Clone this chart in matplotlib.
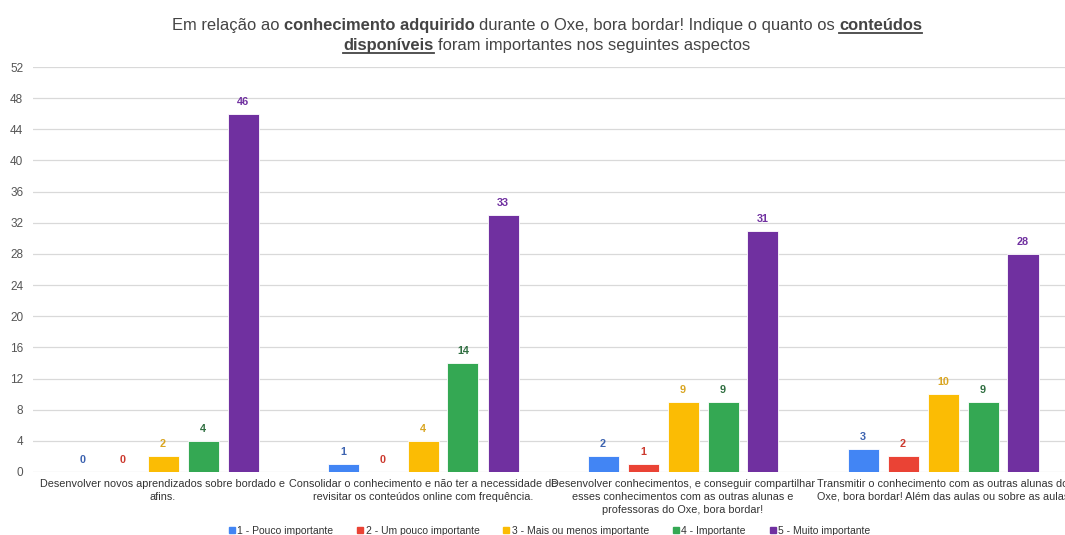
import matplotlib
matplotlib.use("Agg")
import matplotlib.pyplot as plt
from matplotlib.lines import Line2D
import numpy as np

plt.rcParams['font.family'] = ['Liberation Sans', 'DejaVu Sans']

# Data
categorias = [
    "Desenvolver novos aprendizados sobre bordado e\nafins.",
    "Consolidar o conhecimento e não ter a necessidade de\nrevisitar os conteúdos online com frequência.",
    "Desenvolver conhecimentos, e conseguir compartilhar\nesses conhecimentos com as outras alunas e\nprofessoras do Oxe, bora bordar!",
    "Transmitir o conhecimento com as outras alunas do\nOxe, bora bordar! Além das aulas ou sobre as aulas",
]
niveis = ["1 - Pouco importante", "2 - Um pouco importante", "3 - Mais ou menos importante",
          "4 - Importante", "5 - Muito importante"]
pouco = [0, 1, 2, 3]
um_pouco = [0, 0, 1, 2]
mais_ou_menos = [2, 4, 9, 10]
importante = [4, 14, 9, 9]
muito = [46, 33, 31, 28]
series = [pouco, um_pouco, mais_ou_menos, importante, muito]

cores = ["#4285F4", "#EA4335", "#FBBC04", "#34A853", "#7030A0"]
cores_rotulo = ["#3d63b0", "#cc3a2f", "#d9a521", "#2f6e40", "#7030A0"]
yticks = np.arange(0, 53, 4)

fig = plt.figure(figsize=(10.65, 5.35), dpi=100)
ax = fig.add_axes([33 / 1065, 63 / 535, 1040 / 1065, 405 / 535])

x = np.arange(len(categorias))
passo = 40 / 260
largura = 31 / 260
for i, (vals, cor, cor_r) in enumerate(zip(series, cores, cores_rotulo)):
    pos = x + (i - 2) * passo
    ax.bar(pos, vals, width=largura, color=cor, edgecolor="#ffffff", linewidth=0.6, zorder=3)
    for xp, v in zip(pos, vals):
        ax.annotate(str(v), (xp, v), xytext=(0, 5), textcoords="offset points",
                    ha="center", va="bottom", fontsize=7.8, fontweight="bold", color=cor_r)

ax.set_xlim(-0.5, 3.5)
ax.set_ylim(0, 52)
ax.set_yticks(yticks)
ax.set_yticklabels([str(t) for t in yticks], fontsize=8.5, color="#555555")
ax.grid(axis="y", color="#d9d9d9", linewidth=0.9, zorder=0)
ax.tick_params(axis="y", length=0, pad=7)
ax.tick_params(axis="x", length=0, pad=5)
ax.set_xticks(x)
ax.set_xticklabels(categorias, fontsize=7.8, color="#333333", linespacing=1.35, va="top")
for s in ax.spines.values():
    s.set_visible(False)

# Legend
handles = [Line2D([], [], marker="s", linestyle="none", markersize=4.5, color=c) for c in cores]
fig.legend(handles, niveis, loc="center", bbox_to_anchor=(549 / 1065, 1 - 531 / 535), ncol=5,
           frameon=False, fontsize=7.5, handletextpad=0.1, columnspacing=2.2, handlelength=0.8,
           labelcolor="#333333")

# Title with bold / underlined pieces
def titulo_linha(partes, y, tamanho=11.9, cor="#444444"):
    fig.canvas.draw()
    r = fig.canvas.get_renderer()
    objs = []
    for txt, bold, sub in partes:
        t = fig.text(0, y, txt, fontsize=tamanho, color=cor, va="baseline",
                     fontweight="bold" if bold else "normal", transform=None)
        objs.append((t, sub))
    larguras = [t.get_window_extent(r).width for t, _ in objs]
    # width of a single space, measured between two letters
    esp = fig.text(0, 0, "a a", fontsize=tamanho).get_window_extent(r).width - \
        2 * fig.text(0, 0, "a", fontsize=tamanho).get_window_extent(r).width
    for t in fig.texts[-2:]:
        t.remove()
    total = sum(larguras) + esp * (len(objs) - 1)
    x0 = 547 - total / 2
    for (t, sub), w in zip(objs, larguras):
        t.set_position((x0, y))
        if sub:
            fig.add_artist(Line2D([x0, x0 + w], [y - 3, y - 3], color=cor, linewidth=1.3,
                                  transform=None))
        x0 += w + esp

H = 535
titulo_linha([("Em relação ao", False, False), ("conhecimento adquirido", True, False),
              ("durante o Oxe, bora bordar! Indique o quanto os", False, False),
              ("conteúdos", True, True)], H - 30)
titulo_linha([("disponíveis", True, True), ("foram importantes nos seguintes aspectos", False, False)], H - 50)

fig.savefig("out.png", dpi=100, facecolor="white")
